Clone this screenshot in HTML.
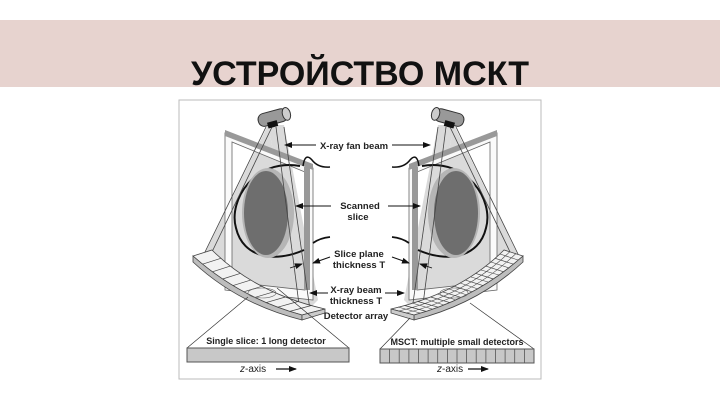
<!DOCTYPE html>
<html><head><meta charset="utf-8"><style>
html,body{margin:0;padding:0;background:#fff;width:720px;height:405px;overflow:hidden}
.band{position:absolute;left:0;top:20px;width:720px;height:67px;background:#e7d3cf}
.title{position:absolute;left:0;top:55px;width:720px;text-align:center;font:bold 34px "Liberation Sans",sans-serif;color:#111}
svg{position:absolute;left:0;top:0}
text{font-family:"Liberation Sans",sans-serif;font-weight:bold;fill:#222}
</style></head><body>
<div class="band"></div>
<div class="title">УСТРОЙСТВО МСКТ</div>
<svg width="720" height="405" viewBox="0 0 720 405">
<defs>
<marker id="ar" markerWidth="8" markerHeight="8" refX="7" refY="4" orient="auto" markerUnits="userSpaceOnUse"><path d="M0,1 L8,4 L0,7z" fill="#111"/></marker>
<g id="half">
 <!-- fan -->
 <polygon points="268,125 205,253 305,313" fill="#dadada"/>
 <polygon points="268,125 284,125 318,300 305,313" fill="#dadada"/>
 <!-- frame -->
 <path d="M225,133 L313,168 L313,300 L225,290 Z M232,142 L232,282 L305,290 L305,172 Z" fill="#fafafa" fill-rule="evenodd" stroke="#666" stroke-width="0.8"/>
 <!-- bars -->
 <polygon points="225,130 313,164 313,170 225,136" fill="#999"/>
 <rect x="304" y="167" width="6" height="123" fill="#999"/>
 <!-- body -->
 <path d="M300,166 C255,158 228,200 236,228 C243,258 275,263 304,250" fill="none" stroke="#111" stroke-width="2"/>
 <ellipse cx="268" cy="213" rx="26" ry="45" fill="#b5b5b5"/>
 <ellipse cx="266" cy="213" rx="22" ry="42" fill="#6e6e6e"/>
 <path d="M313,243 Q320,238 330,237" stroke="#111" stroke-width="1.8" fill="none"/>
 <path d="M303,166 Q305,152 312,160 Q318,168 330,167" stroke="#111" stroke-width="1.5" fill="none"/>
 <!-- fan lines -->
 <line x1="266" y1="127" x2="204" y2="254" stroke="#444" stroke-width="0.8"/>
 <line x1="272" y1="127" x2="211" y2="254" stroke="#444" stroke-width="0.8"/>
 <line x1="276" y1="127" x2="300" y2="312" stroke="#444" stroke-width="0.8"/>
 <line x1="284" y1="127" x2="310" y2="310" stroke="#444" stroke-width="0.8"/>
 <line x1="290" y1="268" x2="302" y2="264" stroke="#111" stroke-width="0.8" marker-end="url(#ar)"/>
 <!-- tube -->
 <g transform="rotate(-15 273 118)"><rect x="258" y="111" width="30" height="13" rx="6" fill="#999" stroke="#333"/><ellipse cx="287" cy="117.5" rx="4" ry="6.5" fill="#ccc" stroke="#333"/><rect x="266" y="121" width="10" height="6" fill="#111"/></g>
</g>
<g id="det">
 <path d="M212,250 Q255,293 325,309 L302,315 Q240,298 193,256 Z" fill="#f2f2f2" stroke="#444" stroke-width="0.8"/>
 <path d="M193,256 Q240,298 302,315 L302,320 Q238,304 193,262 Z" fill="#bdbdbd" stroke="#444" stroke-width="0.8"/>
 <path d="M302,315 L325,309 L325,313 L302,320Z" fill="#ccc" stroke="#444" stroke-width="0.8"/>
 <g stroke="#444" stroke-width="0.7">
 <line x1="220.9" y1="258.3" x2="202.5" y2="264.2"/><line x1="230.3" y1="266.1" x2="212.4" y2="271.8"/><line x1="240.2" y1="273.4" x2="222.6" y2="279"/><line x1="250.7" y1="280.1" x2="233" y2="285.6"/><line x1="261.8" y1="286.3" x2="243.8" y2="291.8"/><line x1="273.3" y1="291.9" x2="254.8" y2="297.4"/><line x1="285.4" y1="297" x2="266.2" y2="302.6"/><line x1="298.1" y1="301.5" x2="277.8" y2="307.2"/><line x1="311.3" y1="305.5" x2="289.8" y2="311.4"/>
 </g>
 <ellipse cx="262" cy="293" rx="14" ry="5" fill="none" stroke="#666" stroke-width="0.6"/>
</g>
</defs>
<rect x="179" y="100" width="362" height="279" fill="#fff" stroke="#bbb"/>
<use href="#half"/>
<use href="#half" transform="translate(722,0) scale(-1,1)"/>
<use href="#det"/>
<g transform="translate(716,0) scale(-1,1)">
 <use href="#det"/>
 <g stroke="#444" stroke-width="0.6" fill="none">
  <path d="M206,251.5 Q250,295 317,311"/><path d="M200,253.5 Q245,297 310,313"/>
  <line x1="216" y1="254" x2="198" y2="260"/><line x1="225" y1="262" x2="207" y2="268"/><line x1="235" y1="270" x2="217" y2="275"/><line x1="245" y1="277" x2="228" y2="282"/><line x1="256" y1="283" x2="238" y2="289"/><line x1="267" y1="289" x2="249" y2="295"/><line x1="279" y1="294" x2="260" y2="300"/><line x1="291" y1="299" x2="272" y2="305"/><line x1="304" y1="303" x2="284" y2="309"/><line x1="318" y1="307" x2="296" y2="313"/>
 </g>
</g>
<!-- labels -->
<g font-size="9.5" text-anchor="middle" fill="#333">
<text x="354" y="149">X-ray fan beam</text>
<text x="360" y="209">Scanned</text><text x="358" y="220">slice</text>
<text x="359" y="257">Slice plane</text><text x="359" y="268">thickness T</text>
<text x="356" y="293">X-ray beam</text><text x="356" y="304">thickness T</text>
<text x="356" y="319">Detector array</text>
</g>
<g stroke="#111" stroke-width="1" fill="none" marker-end="url(#ar)">
<line x1="316" y1="145" x2="285" y2="145"/><line x1="392" y1="145" x2="430" y2="145"/>
<line x1="331" y1="206" x2="296" y2="206"/><line x1="388" y1="206" x2="420" y2="206"/>
<line x1="330" y1="257" x2="313" y2="263"/><line x1="392" y1="257" x2="409" y2="263"/>
<line x1="328" y1="293" x2="310" y2="293"/><line x1="385" y1="293" x2="404" y2="293"/>
</g>
<g stroke="#333" stroke-width="0.7">
<line x1="248" y1="297" x2="187" y2="348"/><line x1="277" y1="288" x2="349" y2="348"/>
<line x1="410" y1="318" x2="380" y2="349"/><line x1="470" y1="303" x2="534" y2="349"/>
</g>
<rect x="187" y="348" width="162" height="14" fill="#c8c8c8" stroke="#555"/>
<text x="266" y="344" font-size="9" text-anchor="middle" fill="#555">Single slice: 1 long detector</text>
<rect x="380" y="349" width="154" height="14" fill="#c8c8c8" stroke="#555"/>
<g stroke="#555" stroke-width="0.8">
<line x1="389.6" y1="349" x2="389.6" y2="363"/><line x1="399.2" y1="349" x2="399.2" y2="363"/><line x1="408.9" y1="349" x2="408.9" y2="363"/><line x1="418.5" y1="349" x2="418.5" y2="363"/><line x1="428.1" y1="349" x2="428.1" y2="363"/><line x1="437.7" y1="349" x2="437.7" y2="363"/><line x1="447.4" y1="349" x2="447.4" y2="363"/><line x1="457" y1="349" x2="457" y2="363"/><line x1="466.6" y1="349" x2="466.6" y2="363"/><line x1="476.2" y1="349" x2="476.2" y2="363"/><line x1="485.9" y1="349" x2="485.9" y2="363"/><line x1="495.5" y1="349" x2="495.5" y2="363"/><line x1="505.1" y1="349" x2="505.1" y2="363"/><line x1="514.7" y1="349" x2="514.7" y2="363"/><line x1="524.4" y1="349" x2="524.4" y2="363"/>
</g>
<text x="457" y="345" font-size="9" text-anchor="middle" fill="#555">MSCT: multiple small detectors</text>
<text x="240" y="372" font-size="10" fill="#333" style="font-weight:normal"><tspan font-style="italic">z</tspan>-axis</text>
<text x="437" y="372" font-size="10" fill="#333" style="font-weight:normal"><tspan font-style="italic">z</tspan>-axis</text>
<g stroke="#111" stroke-width="1.2" marker-end="url(#ar)"><line x1="276" y1="369" x2="296" y2="369"/><line x1="468" y1="369" x2="488" y2="369"/></g>
</svg>
</body></html>
